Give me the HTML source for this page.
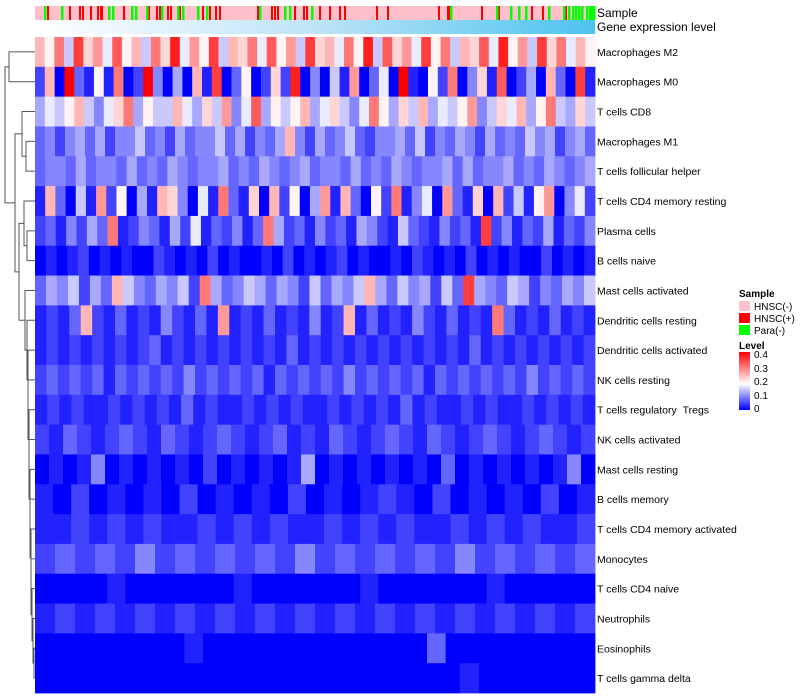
<!DOCTYPE html>
<html><head><meta charset="utf-8">
<style>
body{margin:0;background:#fff;width:800px;height:700px;overflow:hidden;font-family:"Liberation Sans",sans-serif;}
svg{display:block}
</style></head>
<body>
<svg id="chart" width="800" height="700" xmlns="http://www.w3.org/2000/svg">
<defs>
<linearGradient id="geneGrad" x1="0" x2="1" y1="0" y2="0">
<stop offset="0" stop-color="#ffffff"/><stop offset="0.5" stop-color="#bde4f7"/><stop offset="1" stop-color="#4cc3ef"/>
</linearGradient>
<linearGradient id="levelGrad" x1="0" x2="0" y1="1" y2="0">
<stop offset="0" stop-color="#0000ff"/><stop offset="0.45" stop-color="#ffffff"/><stop offset="1" stop-color="#ff0000"/>
</linearGradient>
</defs>
<g id="sample-bar"></g>
<rect x="35" y="20" width="560" height="14" fill="url(#geneGrad)"/>
<text x="597" y="17" font-size="12">Sample</text>
<text x="597" y="31" font-size="12">Gene expression level</text>
<g id="cells"></g>
<g id="labels"></g>
<g id="dendro" stroke="#555" stroke-width="1" fill="none"></g>
<g font-size="10">
<text x="739" y="297" font-weight="bold">Sample</text>
<rect x="739" y="301" width="11" height="10" fill="#ffc0cb"/><text x="754" y="310">HNSC(-)</text>
<rect x="739" y="313" width="11" height="10" fill="#ff0000"/><text x="754" y="322">HNSC(+)</text>
<rect x="739" y="325" width="11" height="10" fill="#00ff00"/><text x="754" y="334">Para(-)</text>
<text x="739" y="349" font-weight="bold">Level</text>
<rect x="739" y="352" width="11" height="58" fill="url(#levelGrad)"/>
<text x="754" y="358">0.4</text><text x="754" y="372">0.3</text><text x="754" y="385">0.2</text><text x="754" y="399">0.1</text><text x="754" y="412">0</text>
</g>
</svg>
<script>
const rowNames=["Macrophages M2","Macrophages M0","T cells CD8","Macrophages M1","T cells follicular helper","T cells CD4 memory resting","Plasma cells","B cells naive","Mast cells activated","Dendritic cells resting","Dendritic cells activated","NK cells resting","T cells regulatory\u00a0\u00a0Tregs","NK cells activated","Mast cells resting","B cells memory","T cells CD4 memory activated","Monocytes","T cells CD4 naive","Neutrophils","Eosinophils","T cells gamma delta"];
// each char = level step of 0.025 (0..g)
const rowValues=[
"a8c6e9b7d8a6c9f7b8e6a9c7d8b6e9a7c8f6d9b7e8c6a9d7f8b6e9c7a8",
"2a0g3181c02g4050a1e0380292f04061b0370g1082c0491d0250a30e1",
"5768a6479c5866a7596b47d5868a579647c8596a5768b4697a58c6596",
"3424535244634253446352435a425346324453624354253436452453",
"3443534435343543445343543453443534354344535344534354345",
"1a3061b28051a94071c3190a2805b1a3082c1470b3190a2618b0472",
"2314253c12431527132413c52314231542163214231e2413251324",
"0101201010021010201001020101201001021010201010020101",
"3546253a6435462c53465354263546a53645263e54365243546",
"1213a21312142131b1213121412a131214213121c31213121",
"1212121212312121212121312121212121212131212121212",
"2323231323232423232313232324232323132323232423232",
"1212112121213121121212112121213121121211212121",
"2132123213212321231213212321321232123212",
"0101401010102010101501010101030101010140",
"1020101020101020101210201010201",
"1121212112121211212121121212112",
"2323242323232423232324232323",
"0000100000010000001000000100000",
"1212121212121212121212121212",
"000000001000000000000300000000",
"00000000000000000000001000000"];
const redStripes=[48,70,80,83,91,98,101,102,124,149,157,160,168,171,180,203,210,216,220,258,272,275,278,295,304,307,320,330,340,345,377,388,439,448,450,482,499,532,543,566];
const greenStripes=[45,62,109,113,132,136,147,162,178,183,198,207,260,285,290,312,451,497,511,519,526,549,564,569,573,576,579,582,587,590,592,594];
const merges=[[0,1,9],[3,4,26],[2,23,22],[6,7,27],[5,25,24],[20,21,34],[19,27,33],[18,28,32],[17,29,31],[16,30,31],[15,31,30],[14,32,30],[13,33,29],[12,34,29],[11,35,28],[10,36,28],[9,37,27],[8,38,25],[26,39,19],[24,40,15],[22,41,5]];

const NS="http://www.w3.org/2000/svg";
const X0=35,X1=595,Y0=37,Y1=693,rh=(Y1-Y0)/rowNames.length;
function yRow(i){return Y0+rh*(i+0.5);}
function color(v){
  const mid=0.19;let r,g,b;
  if(v<=mid){const t=v/mid;r=Math.round(255*t);g=r;b=255;}
  else{const t=Math.min(1,(v-mid)/(0.4-mid));r=255;g=Math.round(255*(1-t));b=g;}
  return `rgb(${r},${g},${b})`;
}
function mk(tag,attrs,parent){const e=document.createElementNS(NS,tag);for(const k in attrs)e.setAttribute(k,attrs[k]);parent.appendChild(e);return e;}
const sb=document.getElementById('sample-bar');
const bg=mk('rect',{x:X0,y:6,width:X1-X0,height:14,fill:'#ffc0cb'},sb);


redStripes.forEach(x=>{const r=mk('rect',{x:x-1,y:6,width:2,height:14,fill:'#ff0000'},sb);

});
greenStripes.forEach(x=>{const r=mk('rect',{x:x-1,y:6,width:2.5,height:14,fill:'#00ff00'},sb);

});
const cg=document.getElementById('cells'),lg=document.getElementById('labels');
rowValues.forEach((s,i)=>{
  const n=s.length,cw=(X1-X0)/n;
  for(let j=0;j<n;j++){
    const v=parseInt(s[j],17)*0.025;
    const c=mk('rect',{x:X0+j*cw,y:Y0+i*rh,width:cw+0.4,height:rh+0.4,fill:color(v)},cg);
    
    
  }
  const t=mk('text',{x:597,y:yRow(i)+4,'font-size':10.5,fill:'#000'},lg);
  t.textContent=rowNames[i];
  
  
});
const dg=document.getElementById('dendro');
const nodes=rowNames.map((_,i)=>({y:yRow(i),x:X0}));
merges.forEach(([a,b,x])=>{
  const A=nodes[a],B=nodes[b];
  const p=mk('path',{d:`M${A.x},${A.y}H${x}V${B.y}H${B.x}`},dg);
  
  
  nodes.push({x:x,y:(A.y+B.y)/2});
});
</script>
</body></html>
